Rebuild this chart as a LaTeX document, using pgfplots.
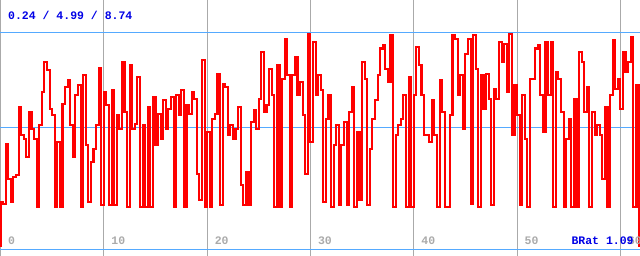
\documentclass[border=0pt]{standalone}
\usepackage{pgfplots}
\pgfplotsset{compat=1.18}
\usepackage{pgfplotstable}
\usepackage{fontspec}
\newfontfamily\mono{Liberation Mono}
\definecolor{gridv}{RGB}{170,170,170}
\definecolor{gridh}{RGB}{85,170,255}
\definecolor{lblue}{RGB}{0,0,230}
\pgfplotstableread{
x y
0 -1.7
0 0.48
0.25 0.40
0.50 3.33
0.75 1.62
1.00 0.48
1.25 1.71
1.50 1.79
1.75 5.13
2.00 3.74
2.25 3.58
2.50 2.68
2.75 4.88
3.00 4.07
3.25 3.58
3.50 0.24
3.75 4.23
4.00 5.86
4.25 7.32
4.50 6.92
4.75 5.04
5.00 4.72
5.25 0.24
5.50 3.42
5.75 0.24
6.00 5.29
6.25 6.10
6.50 6.43
6.75 4.23
7.00 2.68
7.25 5.70
7.50 6.18
7.75 0.24
8.00 6.67
8.25 3.25
8.50 0.48
8.75 2.44
9.00 3.09
9.25 4.23
9.50 7.03
9.75 0.32
10.00 5.86
10.25 5.21
10.50 0.32
10.75 5.94
11.00 0.32
11.25 4.72
11.50 4.07
11.75 7.32
12.00 4.88
12.25 0.24
12.50 7.16
12.75 4.07
13.00 4.31
13.25 6.59
13.50 0.24
13.75 4.23
14.00 0.24
14.25 5.13
14.50 0.24
14.75 5.61
15.00 3.25
15.25 4.80
15.50 3.58
15.75 5.45
16.00 4.07
16.25 5.04
16.50 5.61
16.75 0.24
17.00 5.70
17.25 4.72
17.50 5.94
17.75 0.24
18.00 5.21
18.25 4.80
18.50 5.86
18.75 5.53
19.00 1.87
19.25 0.57
19.50 7.41
19.75 0.24
20.00 3.90
20.25 0.24
20.50 4.56
20.75 4.80
21.00 6.75
21.25 0.32
21.50 6.27
21.75 6.10
22.00 3.74
22.25 4.23
22.50 3.58
22.75 4.07
23.00 5.13
23.25 1.30
23.50 0.32
23.75 1.95
24.00 0.32
24.25 4.39
24.50 4.96
24.75 4.07
25.00 5.53
25.25 7.81
25.50 4.88
25.75 5.21
26.00 7.00
26.25 5.70
26.50 0.24
26.75 7.16
27.00 0.24
27.25 6.51
27.50 8.46
27.75 6.67
28.00 0.24
28.25 6.67
28.50 7.57
28.75 5.70
29.00 6.35
29.25 4.72
29.50 1.87
29.75 8.71
30.00 3.42
30.25 8.30
30.50 5.70
30.75 6.67
31.00 5.94
31.25 0.48
31.50 4.56
31.75 5.70
32.00 0.24
32.25 3.25
32.50 4.23
32.75 0.32
33.00 3.25
33.25 4.39
33.50 0.32
33.75 4.88
34.00 6.10
34.25 0.24
34.50 3.90
34.75 0.57
35.00 7.32
35.25 6.51
35.50 0.32
35.75 3.09
36.00 4.56
36.25 5.45
36.50 6.67
36.75 7.98
37.00 8.14
37.25 7.00
37.50 6.35
37.75 8.63
38.00 0.24
38.25 3.74
38.50 4.23
38.75 4.56
39.00 5.70
39.25 0.24
39.50 6.59
39.75 0.24
40.00 5.70
40.25 8.06
40.50 7.16
40.75 5.70
41.00 3.74
41.25 3.74
41.50 3.42
41.75 5.45
42.00 3.74
42.25 0.24
42.50 6.43
42.75 4.88
43.00 0.24
43.25 0.24
43.50 4.72
43.75 8.63
44.00 8.46
44.25 5.70
44.50 6.67
44.75 4.07
45.00 7.73
45.25 8.46
45.50 0.40
45.75 8.63
46.00 7.00
46.25 0.24
46.50 6.67
46.75 5.04
47.00 6.75
47.25 5.53
47.50 0.32
47.75 6.02
48.00 5.53
48.25 8.30
48.50 7.32
48.75 8.22
49.00 5.86
49.25 8.71
49.50 3.74
49.75 6.18
50.00 4.72
50.25 0.32
50.50 5.70
50.75 3.58
51.00 0.24
51.25 6.51
51.50 6.51
51.75 7.98
52.00 8.14
52.25 5.70
52.50 3.90
52.75 8.30
53.00 5.70
53.25 8.30
53.50 0.24
53.75 6.84
54.00 6.51
54.25 4.88
54.50 0.24
54.75 3.58
55.00 4.56
55.25 0.24
55.50 5.53
55.75 0.24
56.00 7.81
56.25 7.32
56.50 4.88
56.75 6.10
57.00 0.24
57.25 4.88
57.50 3.74
57.75 4.23
58.00 3.74
58.25 1.62
58.50 5.13
58.75 0.24
59.00 5.70
59.25 8.38
59.50 6.02
59.75 6.51
60.00 5.04
60.25 7.81
60.50 6.84
60.75 7.32
61.00 8.55
61.25 0.24
61.50 6.18
61.75 0.24
61.85 -1.7
}\datatable
\tikzset{lbl/.style={inner sep=0pt, font=\mono\bfseries\fontsize{11.5}{12}\selectfont}}
\begin{document}
\begin{tikzpicture}
\begin{axis}[
  name=ax,
  width=640pt, height=256pt, scale only axis,
  xmin=-0.05, xmax=61.9,
  ymin=-2.15, ymax=10.35,
  axis line style={draw=none},
  tick style={draw=none},
  xtick={0,10,20,30,40,50,60},
  ytick={-1.83,4.13,8.74},
  xticklabels={}, yticklabels={},
  ticklabel style={inner sep=0pt, outer sep=0pt},
  major tick length=0pt,
  xmajorgrids, ymajorgrids,
  x grid style={gridv, line width=1pt},
  y grid style={gridh, line width=1pt},
  clip=true,
]
\addplot[red, line width=2.1pt, line join=miter, const plot] table[x=x,y=y] {\datatable};
\node[lbl, anchor=west, text=gridv] at (axis cs:0.72,-1.42) {0};
\node[lbl, anchor=west, text=gridv] at (axis cs:10.72,-1.42) {10};
\node[lbl, anchor=west, text=gridv] at (axis cs:20.72,-1.42) {20};
\node[lbl, anchor=west, text=gridv] at (axis cs:30.72,-1.42) {30};
\node[lbl, anchor=west, text=gridv] at (axis cs:40.72,-1.42) {40};
\node[lbl, anchor=west, text=gridv] at (axis cs:50.72,-1.42) {50};
\node[lbl, anchor=west, text=gridv] at (axis cs:60.72,-1.42) {60};
\node[lbl, anchor=west, text=lblue] at (axis cs:0.72,9.6) {0.24 / 4.99 / 8.74};
\node[lbl, anchor=east, text=lblue] at (axis cs:61.3,-1.42) {BRat 1.09};
\end{axis}
\pgfresetboundingbox
\path (ax.south west) rectangle (ax.north east);
\end{tikzpicture}
\end{document}
